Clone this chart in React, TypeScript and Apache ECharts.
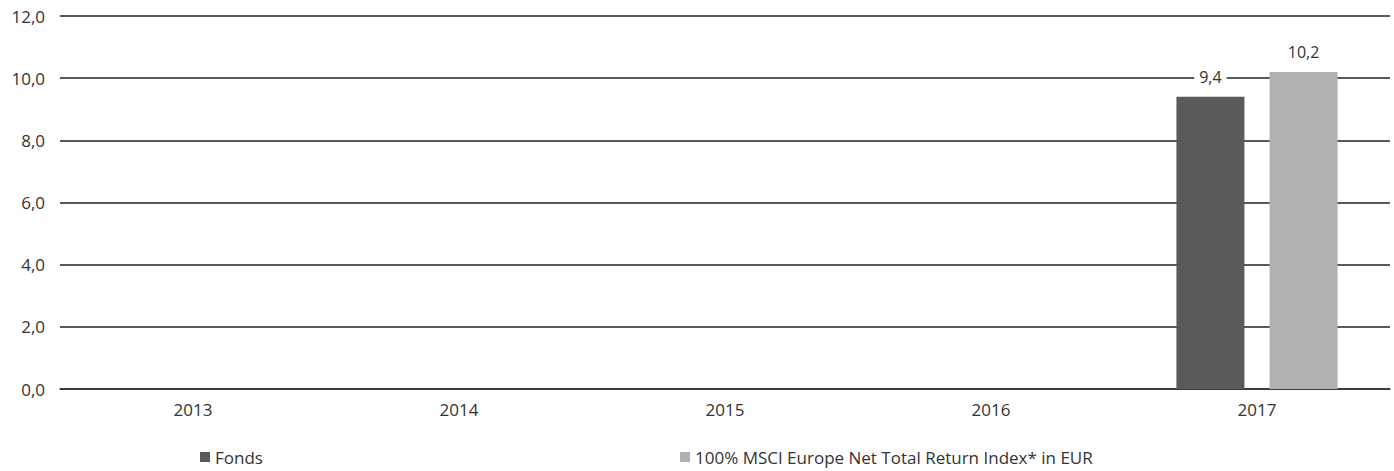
import React, { useEffect, useRef } from "react";
import * as echarts from "echarts";

const categories = ["2013", "2014", "2015", "2016", "2017"];
const fondsValues: (number | null)[] = [null, null, null, null, 9.4];
const indexValues: (number | null)[] = [null, null, null, null, 10.2];
const seriesNames = ["Fonds", "100% MSCI Europe Net Total Return Index* in EUR"];

const FONT = "'Open Sans', 'Noto Sans', sans-serif";

export default function App() {
  const ref = useRef<HTMLDivElement>(null);
  useEffect(() => {
    if (!ref.current) return;
    const chart = echarts.init(ref.current, null, { renderer: "svg" });
    const fmt = (v: number) => v.toFixed(1).replace(".", ",");
    const label = {
      show: true,
      position: "top",
      distance: 12,
      color: "#333",
      fontSize: 16,
      fontFamily: FONT,
      backgroundColor: "#fff",
      padding: [0, 5],
      formatter: (p: any) => fmt(p.value),
    };
    const legendText = { fontSize: 17, color: "#333", fontFamily: FONT, lineHeight: 18 };
    chart.setOption({
      animation: false,
      grid: { left: 60, right: 4, top: 16, bottom: 82, containLabel: false },
      legend: [
        {
          data: [seriesNames[0]],
          left: 200,
          top: 448,
          padding: 0,
          itemWidth: 10,
          itemHeight: 10,
          itemGap: 6,
          textStyle: legendText,
          icon: "rect",
        },
        {
          data: [seriesNames[1]],
          left: 680,
          top: 448,
          padding: 0,
          itemWidth: 10,
          itemHeight: 10,
          textStyle: legendText,
          icon: "rect",
        },
      ],
      xAxis: {
        type: "category",
        data: categories,
        axisLine: { show: true, lineStyle: { color: "#333", width: 1.5 } },
        axisTick: { show: false },
        axisLabel: { fontSize: 17, color: "#333", fontFamily: FONT, margin: 12 },
      },
      yAxis: {
        type: "value",
        min: 0,
        max: 12,
        interval: 2,
        axisLine: { show: false },
        axisTick: { show: false },
        splitLine: { lineStyle: { color: "#222", width: 1.5 } },
        axisLabel: {
          fontSize: 17,
          color: "#333",
          fontFamily: FONT,
          margin: 15,
          formatter: (v: number) => fmt(v),
        },
      },
      series: [
        {
          name: seriesNames[0],
          type: "bar",
          data: fondsValues,
          barWidth: 68,
          barGap: "37%",
          itemStyle: { color: "#5a5a59" },
          label,
        },
        {
          name: seriesNames[1],
          type: "bar",
          data: indexValues,
          barWidth: 68,
          barGap: "37%",
          itemStyle: { color: "#b1b1b1" },
          label,
        },
      ],
    });
    return () => chart.dispose();
  }, []);
  return (
    <div
      ref={ref}
      style={{ position: "absolute", left: 0, top: 0, width: 1394, height: 471, background: "#fff" }}
    />
  );
}
